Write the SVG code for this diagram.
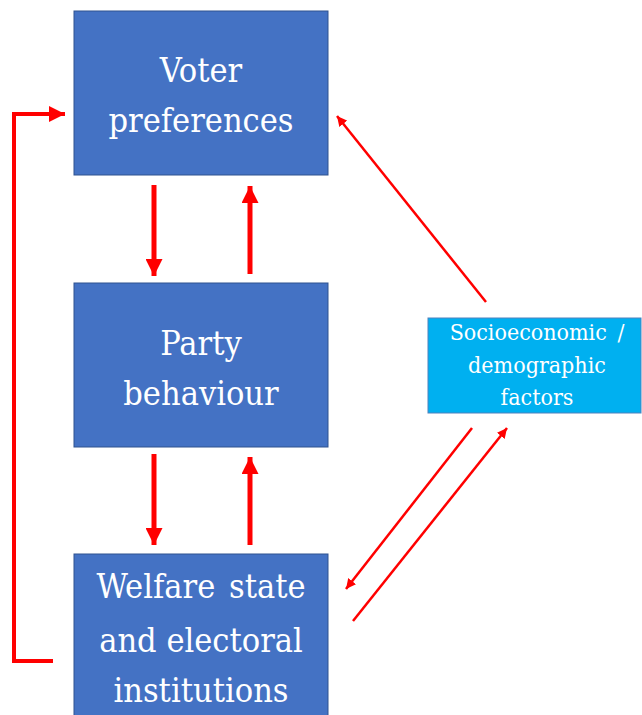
<svg xmlns="http://www.w3.org/2000/svg" width="642" height="715" viewBox="0 0 642 715">
<style>
.box{fill:#4472C4;stroke:#2F528F;stroke-width:1}
.box2{fill:#00B0F0;stroke:#4F81BD;stroke-width:1}
text{font-family:'DejaVu Serif Condensed','DejaVu Serif',serif;font-stretch:condensed;fill:#fff;text-anchor:middle}
.big{font-size:34px}
.sm{font-size:23px}
.thick{stroke:#FF0000;stroke-width:5;fill:none}
.thin{stroke:#FF0000;stroke-width:2.5;fill:none}
</style>
<defs>
<marker id="hb" viewBox="0 0 10 10" refX="10" refY="5" markerWidth="3.4" markerHeight="3.4" orient="auto" markerUnits="strokeWidth">
<path d="M0,0 L10,5 L0,10 z" fill="#FF0000"/>
</marker>
<marker id="hl" viewBox="0 0 10 10" refX="10" refY="5" markerWidth="4" markerHeight="4" orient="auto" markerUnits="strokeWidth">
<path d="M0,0 L10,5 L0,10 z" fill="#FF0000"/>
</marker>
<marker id="hs" viewBox="0 0 10 10" refX="10" refY="5" markerWidth="4" markerHeight="4" orient="auto" markerUnits="strokeWidth">
<path d="M0,0 L10,5 L0,10 z" fill="#FF0000"/>
</marker>
</defs>
<g id="connectors">
<line class="thick" x1="154" y1="185" x2="154" y2="276" marker-end="url(#hb)"/>
<line class="thick" x1="250" y1="274" x2="250" y2="186" marker-end="url(#hb)"/>
<line class="thick" x1="154" y1="454" x2="154" y2="545" marker-end="url(#hb)"/>
<line class="thick" x1="250" y1="545" x2="250" y2="457" marker-end="url(#hb)"/>
<polyline class="thin" style="stroke-width:4" points="53,661 14,661 14,114 65,114" marker-end="url(#hl)"/>
<line class="thin" x1="486" y1="302" x2="337" y2="116" marker-end="url(#hs)"/>
<line class="thin" x1="472" y1="428" x2="346" y2="589" marker-end="url(#hs)"/>
<line class="thin" x1="353" y1="621" x2="507" y2="428" marker-end="url(#hs)"/>
</g>
<g id="voter">
<rect class="box" x="74" y="11" width="254" height="164"/>
<text class="big" x="201" y="82">Voter</text>
<text class="big" x="201" y="132">preferences</text>
</g>
<g id="party">
<rect class="box" x="74" y="283" width="254" height="164"/>
<text class="big" x="201" y="355">Party</text>
<text class="big" x="201" y="405">behaviour</text>
</g>
<g id="welfare">
<rect class="box" x="74" y="554" width="254" height="170"/>
<text class="big" x="201" y="598" style="word-spacing:4px">Welfare state</text>
<text class="big" x="201" y="652">and electoral</text>
<text class="big" x="201" y="702">institutions</text>
</g>
<g id="socio">
<rect class="box2" x="428" y="318" width="213" height="95"/>
<text class="sm" x="537" y="340" style="word-spacing:4px">Socioeconomic /</text>
<text class="sm" x="537" y="373">demographic</text>
<text class="sm" x="537" y="405">factors</text>
</g>
</svg>
